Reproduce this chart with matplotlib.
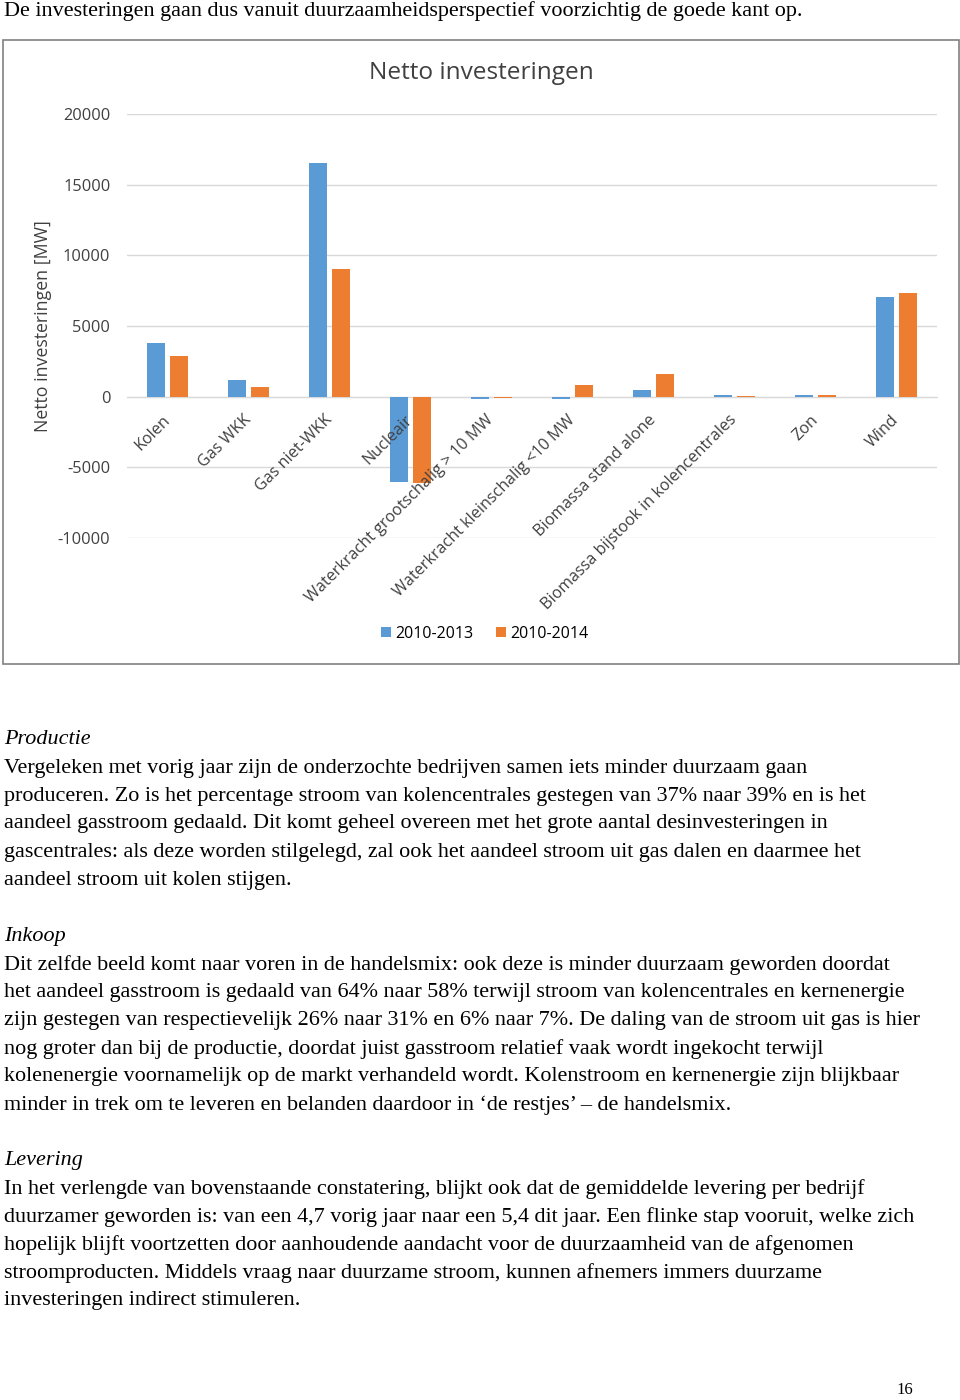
import matplotlib.pyplot as plt
import matplotlib.patches as patches

# chart data (MW)
categories = ["Kolen", "Gas WKK", "Gas niet-WKK", "Nucleair",
              "Waterkracht grootschalig > 10 MW", "Waterkracht kleinschalig <10 MW",
              "Biomassa stand alone", "Biomassa bijstook in kolencentrales",
              "Zon", "Wind"]
inv_2013 = [3800, 1200, 16500, -6050, -150, -200, 470, 150, 150, 7050]
inv_2014 = [2900, 650, 9050, -6100, -120, 800, 1620, 70, 150, 7350]
series_names = ["2010-2013", "2010-2014"]
y_ticks = [-10000, -5000, 0, 5000, 10000, 15000, 20000]

# page text
top_line = "De investeringen gaan dus vanuit duurzaamheidsperspectief voorzichtig de goede kant op."
sections = [
    ("Productie", 740, [
        "Vergeleken met vorig jaar zijn de onderzochte bedrijven samen iets minder duurzaam gaan",
        "produceren. Zo is het percentage stroom van kolencentrales gestegen van 37% naar 39% en is het",
        "aandeel gasstroom gedaald. Dit komt geheel overeen met het grote aantal desinvesteringen in",
        "gascentrales: als deze worden stilgelegd, zal ook het aandeel stroom uit gas dalen en daarmee het",
        "aandeel stroom uit kolen stijgen.",
    ]),
    ("Inkoop", 937, [
        "Dit zelfde beeld komt naar voren in de handelsmix: ook deze is minder duurzaam geworden doordat",
        "het aandeel gasstroom is gedaald van 64% naar 58% terwijl stroom van kolencentrales en kernenergie",
        "zijn gestegen van respectievelijk 26% naar 31% en 6% naar 7%. De daling van de stroom uit gas is hier",
        "nog groter dan bij de productie, doordat juist gasstroom relatief vaak wordt ingekocht terwijl",
        "kolenenergie voornamelijk op de markt verhandeld wordt. Kolenstroom en kernenergie zijn blijkbaar",
        "minder in trek om te leveren en belanden daardoor in \u2018de restjes\u2019 \u2013 de handelsmix.",
    ]),
    ("Levering", 1161, [
        "In het verlengde van bovenstaande constatering, blijkt ook dat de gemiddelde levering per bedrijf",
        "duurzamer geworden is: van een 4,7 vorig jaar naar een 5,4 dit jaar. Een flinke stap vooruit, welke zich",
        "hopelijk blijft voortzetten door aanhoudende aandacht voor de duurzaamheid van de afgenomen",
        "stroomproducten. Middels vraag naar duurzame stroom, kunnen afnemers immers duurzame",
        "investeringen indirect stimuleren.",
    ]),
]

W, H = 960, 1400
blue = "#5B9BD5"
orange = "#ED7D31"
txt = "#404040"
sans = "Open Sans"
serif = "Liberation Serif"

fig = plt.figure(figsize=(W / 100, H / 100), dpi=100)

def fy(y):
    return 1 - y / H

# chart frame
fig.patches.append(patches.Rectangle((3 / W, fy(664)), 956 / W, 624 / H,
                                     transform=fig.transFigure, fill=False,
                                     edgecolor="#808080", lw=1.2))

ax = fig.add_axes([127 / W, fy(538), 810 / W, 424 / H])
x = list(range(len(categories)))
ax.bar([i - 0.14 for i in x], inv_2013, width=0.22, color=blue, label=series_names[0], zorder=2)
ax.bar([i + 0.14 for i in x], inv_2014, width=0.22, color=orange, label=series_names[1], zorder=2)
ax.set_xlim(-0.5, len(categories) - 0.5)
ax.set_ylim(-10000, 20000)
ax.set_yticks(y_ticks)
ax.set_yticklabels([str(v) for v in y_ticks], fontsize=11.8, color=txt, family=sans)
ax.grid(axis="y", color="#d9d9d9", lw=1)
ax.yaxis.set_zorder(0.5)
ax.xaxis.set_zorder(4)
for s in ["top", "right", "left"]:
    ax.spines[s].set_visible(False)
ax.spines["bottom"].set_position(("data", 0))
ax.spines["bottom"].set_color("#d9d9d9")
ax.spines["bottom"].set_zorder(1)
ax.tick_params(axis="y", length=0, pad=12)
ax.tick_params(axis="x", length=0, pad=15)
ax.set_xticks(x)
ax.set_xticklabels(categories, rotation=45, ha="right", va="center",
                   rotation_mode="anchor", fontsize=11.6, color=txt, family=sans)
ax.set_ylabel("Netto investeringen [MW]", fontsize=12.8, color=txt, family=sans, labelpad=4)
ax.set_facecolor("none")

fig.text(481 / W, fy(73), "Netto investeringen", ha="center", va="center",
         fontsize=17.6, color=txt, family=sans)
ax.legend(loc="center", bbox_to_anchor=(485 / W, fy(634)), bbox_transform=fig.transFigure,
          ncol=2, frameon=False, prop={"family": sans, "size": 11.5},
          handlelength=0.6, handleheight=0.6, handletextpad=0.3, columnspacing=1.4,
          labelcolor="black")

# page text
fig.text(4 / W, fy(11), top_line, ha="left", va="center", fontsize=15.9,
         family=serif, color="black")
for head, y0, lines in sections:
    fig.text(4 / W, fy(y0), head, ha="left", va="center", fontsize=15.9,
             family=serif, style="italic", color="black")
    for k, line in enumerate(lines):
        fig.text(4 / W, fy(y0 + 28 * (k + 1)), line, ha="left", va="center",
                 fontsize=15.9, family=serif, color="black")
fig.text(905 / W, fy(1390), "16", ha="center", va="center", fontsize=12,
         family=serif, color="black")

fig.savefig("out.png", dpi=100, facecolor="white")
